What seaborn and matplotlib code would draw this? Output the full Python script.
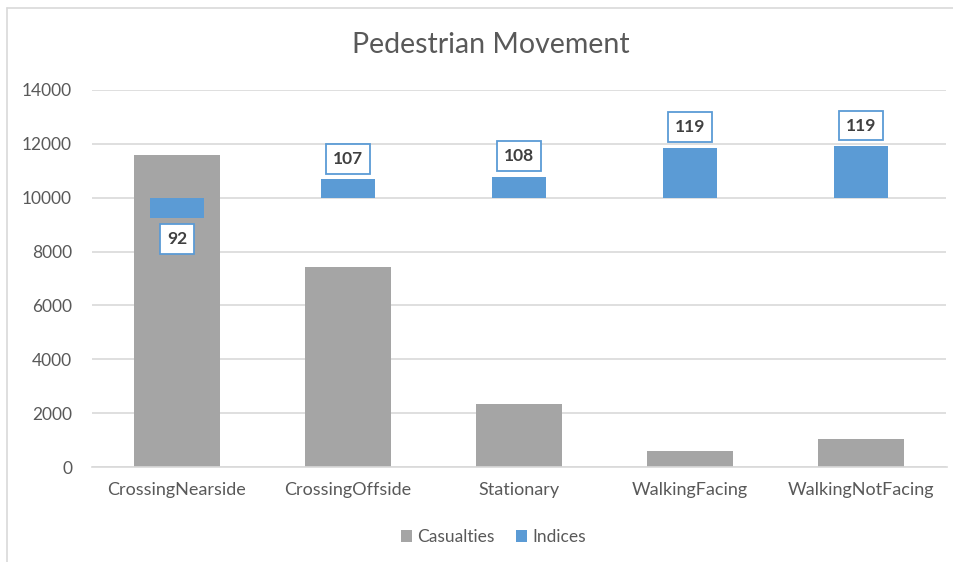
import matplotlib
matplotlib.use("Agg")
import matplotlib.pyplot as plt
import seaborn as sns
import pandas as pd
from matplotlib.lines import Line2D

# ---- data ----
categories = ["CrossingNearside", "CrossingOffside", "Stationary", "WalkingFacing", "WalkingNotFacing"]
casualties = [11600, 7430, 2340, 590, 1040]
indices = [92.4, 106.9, 107.8, 118.6, 119.2]
index_labels = ["92", "107", "108", "119", "119"]
y_ticks = [0, 2000, 4000, 6000, 8000, 10000, 12000, 14000]

GRAY = "#A5A5A5"
BLUE = "#5B9BD5"
TEXT = "#595959"
GRID = "#D9D9D9"

sns.set_theme(style="white")
plt.rcParams["font.family"] = ["Lato", "DejaVu Sans"]

W, H = 954, 562
fig = plt.figure(figsize=(W / 100, H / 100), dpi=100)
ax = fig.add_axes([91.5 / W, 1 - 467 / H, 855 / W, 377 / H])

df = pd.DataFrame({"category": categories, "casualties": casualties,
                   "index_height": [(v - 100) * 100 for v in indices]})

sns.barplot(data=df, x="category", y="casualties", color=GRAY, saturation=1,
            width=0.5, errorbar=None, ax=ax, label="Casualties", zorder=2,
            linewidth=0, edgecolor="none")
sns.barplot(data=df, x="category", y="index_height", color=BLUE, saturation=1,
            width=0.31, errorbar=None, ax=ax, label="Indices", bottom=10000, zorder=3,
            linewidth=0, edgecolor="none")

ax.set_ylim(0, 14000)
ax.set_xlim(-0.5, len(categories) - 0.5)
ax.set_yticks(y_ticks)
ax.set_yticklabels([str(t) for t in y_ticks])
ax.yaxis.grid(True, color=GRID, linewidth=1.2, zorder=0)
ax.set_axisbelow(True)
for s in ["top", "right", "left"]:
    ax.spines[s].set_visible(False)
ax.spines["bottom"].set_color(GRID)
ax.spines["bottom"].set_linewidth(1.2)
ax.tick_params(axis="y", length=0, pad=14, labelsize=12.5, labelcolor=TEXT)
ax.tick_params(axis="x", length=0, pad=11, labelsize=13, labelcolor=TEXT)
ax.set_xlabel("")
ax.set_ylabel("")

# labels on index bars
for i, (v, lab) in enumerate(zip(indices, index_labels)):
    y = 10000 + (v - 100) * 100
    if v >= 100:
        off, va = 9, "bottom"
    else:
        off, va = -9.5, "top"
    ax.annotate(lab, xy=(i, y), xytext=(0, off), textcoords="offset points",
                ha="center", va=va, fontsize=12.5, fontweight="bold", color="#404040",
                bbox=dict(boxstyle="square,pad=0.4", fc="white", ec=BLUE, lw=1.3),
                zorder=5)

fig.text(490.5 / W, 1 - 45 / H, "Pedestrian Movement", ha="center", va="center",
         fontsize=20.5, color=TEXT)

leg = ax.legend(loc="center", bbox_to_anchor=(0.47, (467 - 537) / 377), ncol=2,
                frameon=False, fontsize=12.5, handlelength=0.65, handleheight=0.65,
                handletextpad=0.3, columnspacing=1.2, labelcolor=TEXT)

# chart area border (top and left)
fig.add_artist(Line2D([7 / W, 1], [1 - 8 / H, 1 - 8 / H], color=GRID, lw=1.2, transform=fig.transFigure))
fig.add_artist(Line2D([7 / W, 7 / W], [0, 1 - 8 / H], color=GRID, lw=1.2, transform=fig.transFigure))

fig.savefig("out.png", dpi=100)
